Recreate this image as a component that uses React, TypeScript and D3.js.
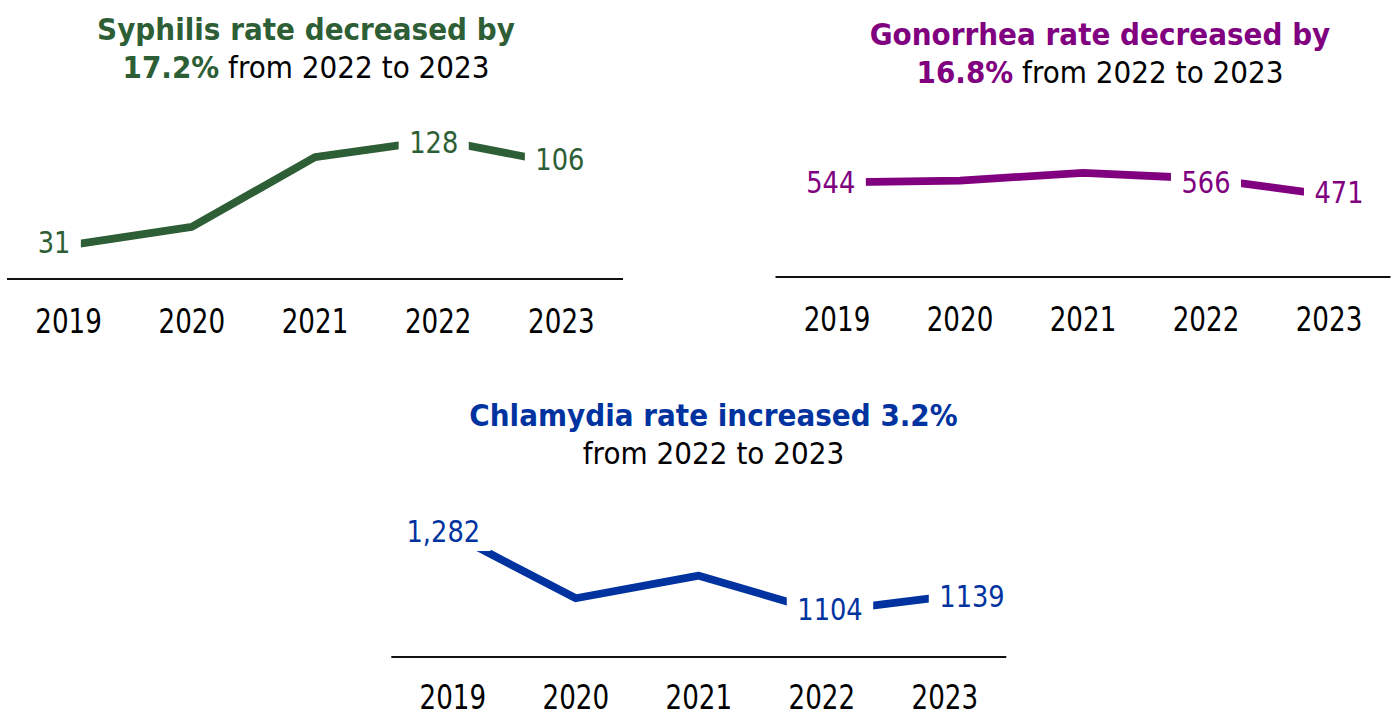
import React, { useEffect, useRef } from "react";
import * as d3 from "d3";

// ---- data ----
const years = ["2019", "2020", "2021", "2022", "2023"];
const syphilisRates = [31, 48, 112, 128, 106];
const gonorrheaRates = [544, 554, 599, 566, 471];
const chlamydiaRates = [1282, 1135, 1187, 1104, 1139];
const syphilisLabels = ["31", "", "", "128", "106"];
const gonorrheaLabels = ["544", "", "", "566", "471"];
const chlamydiaLabels = ["1,282", "", "", "1104", "1139"];
const syphilisTitle = ["Syphilis rate decreased by", "17.2%", " from 2022 to 2023"];
const gonorrheaTitle = ["Gonorrhea rate decreased by", "16.8%", " from 2022 to 2023"];
const chlamydiaTitle = ["Chlamydia rate increased 3.2%", "", "from 2022 to 2023"];

const FONT = "'DejaVu Sans', Verdana, sans-serif";

// ---- layout / style ----
const charts = [
  {
    values: syphilisRates, labels: syphilisLabels, title: syphilisTitle,
    color: "#2d5e35", domain: [0, 160],
    x0: 7, x1: 623, axisY: 279, topY: 105, tickGap: 54,
    titleX: 306, titleY1: 39.7, titleY2: 78,
    labelOffsets: [[-14.6, 8], [0, 0], [0, 0], [-4.5, 13.5], [-1.5, 6.3]],
  },
  {
    values: gonorrheaRates, labels: gonorrheaLabels, title: gonorrheaTitle,
    color: "#800080", domain: [0, 1000],
    x0: 775.5, x1: 1390.5, axisY: 277, topY: 103, tickGap: 54,
    titleX: 1100, titleY1: 45, titleY2: 82.7,
    labelOffsets: [[-6.2, 10.4], [0, 0], [0, 0], [0, 14.2], [10, 7.7]],
  },
  {
    values: chlamydiaRates, labels: chlamydiaLabels, title: chlamydiaTitle,
    color: "#0033a0", domain: [1000, 1400],
    x0: 391.3, x1: 1006.3, axisY: 657, topY: 483, tickGap: 52,
    titleX: 713.5, titleY1: 426, titleY2: 464,
    labelOffsets: [[-9.5, 7.4], [0, 0], [0, 0], [8.2, 8.2], [27.2, 10.2]],
  },
];

const TITLE_SIZE = 30;
const TITLE_SX = 0.93;
const AXIS_SIZE = 34;
const AXIS_SX = 0.77;
const LABEL_SIZE = 31;
const LABEL_SX = 0.83;
const LABEL_PAD = 10.5;

export default function App() {
  const ref = useRef<SVGSVGElement | null>(null);

  useEffect(() => {
    const svg = d3.select(ref.current);
    svg.selectAll("*").remove();

    charts.forEach((c) => {
      const g = svg.append("g");
      const x = d3.scalePoint<string>().domain(years).range([c.x0, c.x1]).padding(0.5);
      const y = d3.scaleLinear().domain(c.domain).range([c.axisY, c.topY]);

      // title
      g.append("text")
        .attr("transform", `translate(${c.titleX},${c.titleY1}) scale(${TITLE_SX},1)`)
        .attr("text-anchor", "middle")
        .attr("font-family", FONT)
        .attr("font-size", TITLE_SIZE)
        .attr("font-weight", "bold")
        .attr("fill", c.color)
        .text(c.title[0]);
      const t2 = g.append("text")
        .attr("transform", `translate(${c.titleX},${c.titleY2}) scale(${TITLE_SX},1)`)
        .attr("text-anchor", "middle")
        .attr("font-family", FONT)
        .attr("font-size", TITLE_SIZE)
        .style("white-space", "pre");
      if (c.title[1]) {
        t2.append("tspan").attr("font-weight", "bold").attr("fill", c.color).text(c.title[1]);
      }
      t2.append("tspan").attr("fill", "#000").text(c.title[2]);

      // axis line
      g.append("line")
        .attr("x1", c.x0).attr("x2", c.x1)
        .attr("y1", c.axisY).attr("y2", c.axisY)
        .attr("stroke", "#111").attr("stroke-width", 1.9);

      // axis tick labels
      years.forEach((yr) => {
        g.append("text")
          .attr("transform", `translate(${x(yr)},${c.axisY + c.tickGap}) scale(${AXIS_SX},1)`)
          .attr("text-anchor", "middle")
          .attr("font-family", FONT)
          .attr("font-size", AXIS_SIZE)
          .attr("fill", "#000")
          .text(yr);
      });

      // line
      const line = d3.line<number>()
        .x((_, i) => x(years[i]) as number)
        .y((d) => y(d));
      g.append("path")
        .datum(c.values)
        .attr("d", line)
        .attr("fill", "none")
        .attr("stroke", c.color)
        .attr("stroke-width", 7.8)
        .attr("stroke-linejoin", "round");

      // data labels with white boxes
      c.values.forEach((v, i) => {
        const lab = c.labels[i];
        if (!lab) return;
        const [dx, dy] = c.labelOffsets[i];
        const px = (x(years[i]) as number) + dx;
        const py = y(v) + dy;
        const lg = g.append("g")
          .attr("transform", `translate(${px},${py}) scale(${LABEL_SX},1)`);
        const rect = lg.append("rect").attr("fill", "#fff");
        const txt = lg.append("text")
          .attr("text-anchor", "middle")
          .attr("font-family", FONT)
          .attr("font-size", LABEL_SIZE)
          .attr("fill", c.color)
          .text(lab);
        const bb = (txt.node() as SVGTextElement).getBBox();
        const padX = LABEL_PAD / LABEL_SX;
        rect
          .attr("x", bb.x - padX)
          .attr("width", bb.width + 2 * padX)
          .attr("y", -LABEL_SIZE * 0.95)
          .attr("height", LABEL_SIZE * 1.25);
      });
    });
  }, []);

  return (
    <svg
      ref={ref}
      width={1392}
      height={715}
      style={{ position: "absolute", left: 0, top: 0, background: "#fff" }}
    />
  );
}
